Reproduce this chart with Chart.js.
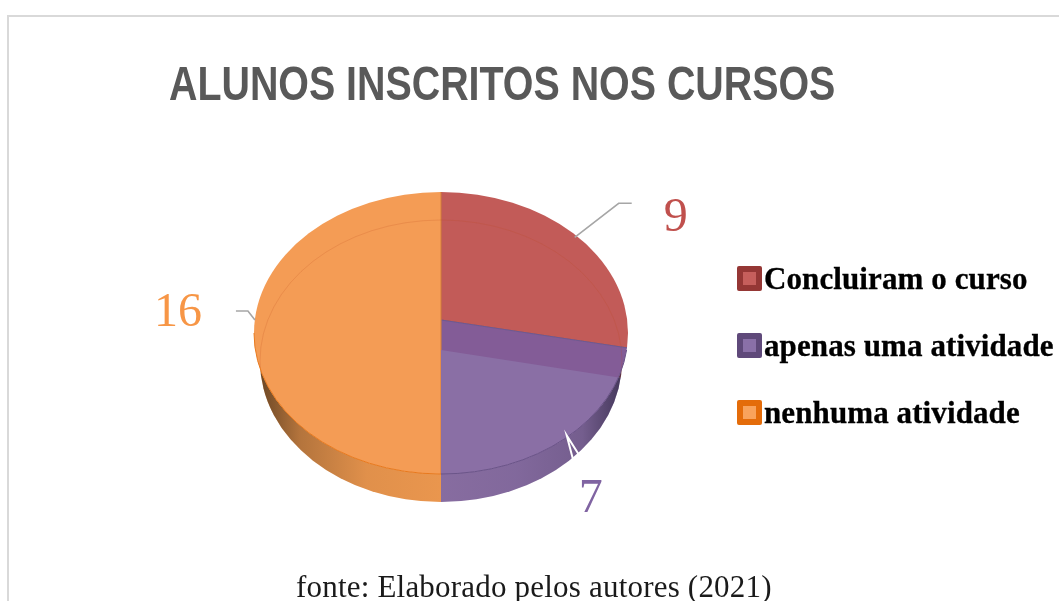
<!DOCTYPE html>
<html lang="pt">
<head>
<meta charset="utf-8">
<title>Alunos inscritos nos cursos</title>
<script src="https://cdn.jsdelivr.net/npm/chart.js@4/dist/chart.umd.min.js"></script>
<style>
  html, body { margin: 0; background: #fff; overflow: hidden; }
  #page { position: relative; width: 1059px; height: 601px; overflow: hidden; }
  #frame { position: absolute; left: 7px; top: 15px; width: 1060px; height: 600px;
           border-left: 2px solid #d9d9d9; border-top: 2px solid #d9d9d9; }
  #chart { position: absolute; left: 0; top: 0; }
  #title { position: absolute; left: 169px; top: 57px; white-space: nowrap; transform: scaleX(0.82); transform-origin: 0 0;
           font: bold 48px "Liberation Sans", sans-serif; color: #595959; line-height: 54px; }
  #legend { position: absolute; left: 737px; top: 0; }
  .row { position: absolute; left: 0; white-space: nowrap; height: 33px; width: 330px; }
  .swatch { position: absolute; left: 0; top: 4px; width: 13px; height: 13px; border: 6px solid; border-radius: 2px; }
  .row span { position: absolute; left: 27px; top: 0;
              font: bold 31px "Liberation Serif", serif; color: #000; line-height: 33px; letter-spacing: 0.1px; -webkit-text-stroke: 0.3px #000; }
  #source { position: absolute; left: 296px; top: 570px; white-space: nowrap; letter-spacing: 0.2px;
            font: 31px "Liberation Serif", serif; color: #1a1a1a; line-height: 33px; }
</style>
</head>
<body>
<div id="page">
  <div id="frame"></div>
  <canvas id="chart" width="1059" height="601"></canvas>
  <div id="title"></div>
  <div id="legend"></div>
  <div id="source"></div>
</div>
<script>
/* ── Data ───────────────────────────────────────────── */
const TITLE = 'ALUNOS INSCRITOS NOS CURSOS';
const SOURCE = 'fonte: Elaborado pelos autores (2021)';
const categories = ['Concluiram o curso', 'apenas uma atividade', 'nenhuma atividade'];
const values = [9, 7, 16];

/* ── Colours ────────────────────────────────────────── */
const faceColors  = ['#c25b58', '#835c97', '#f49c55'];
const edgeColors  = ['#a8504f', '#6d5a93', '#d9803f'];
const wallColors  = ['#c25b58', '#8a6fa5', '#f09a50'];
const labelColors = ['#c0504d', '#8064a2', '#f79646'];
const swatchOuter = ['#953735', '#5f497a', '#e46c0a'];
const swatchInner = ['#c65f5c', '#8a70a8', '#f9a35c'];
const LIGHT_PURPLE = '#8a6fa5';

/* ── Pie geometry (tilted disc, seen in perspective) ── */
const CX = 441;
const TOP_DISC = { cy: 333, rx: 187, ry: 141, pivot: 320 };
const LOW_DISC = { cy: 361, rx: 181, ry: 141, pivot: 350 };
const OVERSIZE = 1.2;

// label anchor tweaks: leader line start, elbow, end and text position, relative to the slice's rim point
const LEADERS = [
  { rim: 0.925, path: [[44, -34], [57, -34]], text: [101, -19], notch: false },
  { rim: 1.06, path: [[6, 23], [0, 0], [12, 19]], text: [24, 64], notch: true },
  { rim: 0.995, path: [[-7, -9], [-19, -9]], text: [-77, -7], notch: false },
];

const ellipsePath = (ctx, d) => ctx.ellipse(CX, d.cy, d.rx, d.ry, 0, 0, Math.PI * 2);

// draws library arcs squashed onto a disc, pivoting off-centre and clipped to its rim
const drawArcs = (ctx, arcs, disc, override) => {
  const R = arcs[0].outerRadius;
  ctx.save();
  ctx.beginPath();
  ellipsePath(ctx, disc);
  ctx.clip();
  ctx.translate(CX, disc.pivot);
  ctx.scale(OVERSIZE * disc.rx / R, OVERSIZE * disc.ry / R);
  ctx.translate(-arcs[0].x, -arcs[0].y);
  arcs.forEach((arc, i) => {
    const saved = arc.options;
    if (override) arc.options = { ...saved, ...override(i) };
    arc.draw(ctx);
    arc.options = saved;
  });
  ctx.restore();
};

const discPie = {
  id: 'discPie',
  beforeDatasetsDraw(chart) {
    const { ctx } = chart;
    const arcs = chart.getDatasetMeta(0).data;

    // side wall: lower disc, only where the top disc does not cover it
    ctx.save();
    ctx.beginPath();
    ctx.rect(0, 0, 1059, 601);
    ellipsePath(ctx, TOP_DISC);
    ctx.clip('evenodd');
    drawArcs(ctx, arcs, LOW_DISC, i => ({ backgroundColor: wallColors[i], borderWidth: 0 }));
    const shade = ctx.createLinearGradient(255, 0, 627, 0);
    shade.addColorStop(0, 'rgba(40,28,15,0.7)');
    shade.addColorStop(0.12, 'rgba(40,28,15,0.3)');
    shade.addColorStop(0.3, 'rgba(40,28,15,0.08)');
    shade.addColorStop(0.5, 'rgba(40,28,15,0.03)');
    shade.addColorStop(0.7, 'rgba(30,25,50,0.08)');
    shade.addColorStop(0.88, 'rgba(30,25,50,0.2)');
    shade.addColorStop(1, 'rgba(30,25,50,0.7)');
    ctx.beginPath();
    ellipsePath(ctx, LOW_DISC);
    ctx.fillStyle = shade;
    ctx.fill();
    ctx.restore();

    // top face
    drawArcs(ctx, arcs, TOP_DISC);

    // the purple slice of the lower disc shows through as the lighter part
    ctx.save();
    ctx.beginPath();
    ellipsePath(ctx, TOP_DISC);
    ctx.clip();
    drawArcs(ctx, [arcs[1]], LOW_DISC, () => ({ backgroundColor: LIGHT_PURPLE, borderWidth: 0 }));
    ctx.restore();

    // faint rim of the lower disc seen through the top face
    ctx.save();
    ctx.beginPath();
    ellipsePath(ctx, TOP_DISC);
    ctx.clip();
    ctx.lineWidth = 1;
    ctx.strokeStyle = 'rgba(190,70,30,0.18)';
    ctx.beginPath();
    ellipsePath(ctx, LOW_DISC);
    ctx.stroke();
    ctx.restore();

    // rim of the top face
    const rim = (from, to, color) => {
      ctx.beginPath();
      ctx.ellipse(CX, TOP_DISC.cy, TOP_DISC.rx, TOP_DISC.ry, 0, from, to);
      ctx.strokeStyle = color;
      ctx.lineWidth = 1;
      ctx.stroke();
    };
    rim(Math.PI / 2, Math.PI, '#e8791d');
    rim(0.12, Math.PI / 2, '#6a5488');

    // data labels with leader lines
    const total = values.reduce((a, b) => a + b, 0);
    let angle = 0;
    values.forEach((v, i) => {
      const mid = angle + (v / total) * Math.PI;
      angle += (v / total) * Math.PI * 2;
      const l = LEADERS[i];
      const x = CX + Math.sin(mid) * TOP_DISC.rx * l.rim;
      const y = TOP_DISC.pivot - Math.cos(mid) * TOP_DISC.ry * l.rim;
      ctx.beginPath();
      ctx.moveTo(x, y);
      l.path.forEach(p => ctx.lineTo(x + p[0], y + p[1]));
      ctx.lineWidth = l.notch ? 2 : 1.6;
      ctx.strokeStyle = l.notch ? '#fff' : '#a6a6a6';
      ctx.stroke();
      ctx.font = '48px "Liberation Serif", serif';
      ctx.fillStyle = labelColors[i];
      ctx.textAlign = 'center';
      ctx.textBaseline = 'middle';
      ctx.fillText(String(v), x + l.text[0], y + l.text[1]);
    });
    return false;
  },
};

/* ── Page text ──────────────────────────────────────── */
document.getElementById('title').textContent = TITLE;
document.getElementById('source').textContent = SOURCE;
const legendEl = document.getElementById('legend');
const LEGEND_TOPS = [262, 329, 396];
categories.forEach((name, i) => {
  const row = document.createElement('div');
  row.className = 'row';
  row.style.top = LEGEND_TOPS[i] + 'px';
  const box = document.createElement('div');
  box.className = 'swatch';
  box.style.background = swatchInner[i];
  box.style.borderColor = swatchOuter[i];
  const text = document.createElement('span');
  text.textContent = name;
  row.append(box, text);
  legendEl.appendChild(row);
});

/* ── Chart ──────────────────────────────────────────── */
new Chart(document.getElementById('chart').getContext('2d'), {
  type: 'pie',
  data: {
    labels: categories,
    datasets: [{
      data: values,
      backgroundColor: faceColors,
      borderColor: edgeColors,
      borderWidth: 1.5,
      clip: false,
    }],
  },
  options: {
    responsive: false,
    animation: false,
    plugins: {
      legend: { display: false },
      title: { display: false },
      tooltip: { enabled: false },
    },
  },
  plugins: [discPie],
});
</script>
</body>
</html>
